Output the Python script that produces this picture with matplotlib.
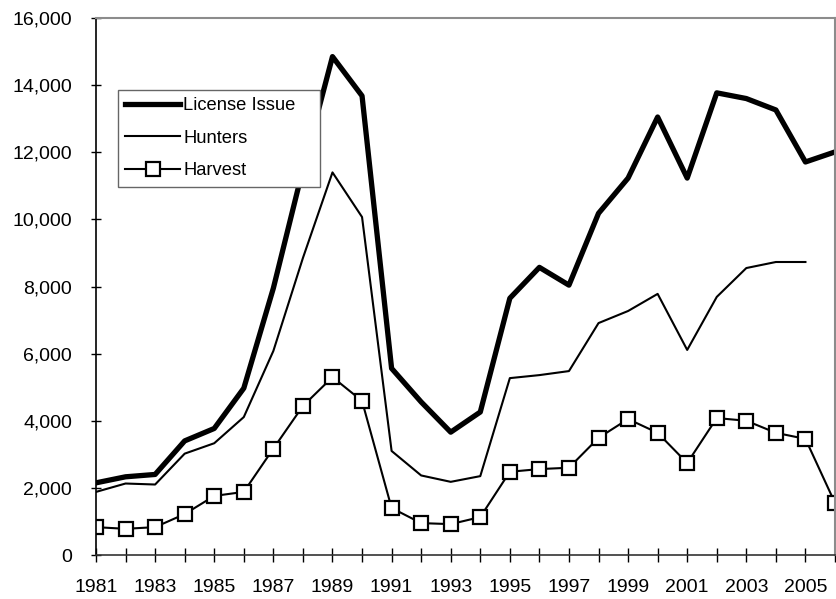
import matplotlib.pyplot as plt
from matplotlib.ticker import FuncFormatter

plt.rcParams['font.family'] = ['Liberation Sans', 'DejaVu Sans']

years = list(range(1981, 2007))
license_issue = [2150, 2330, 2400, 3400, 3770, 4970, 7950, 11500, 14850, 13680,
                 5560, 4560, 3660, 4260, 7650, 8570, 8040, 10180, 11230, 13050,
                 11230, 13770, 13600, 13260, 11710, 12010]
hunters = [1880, 2130, 2100, 3020, 3330, 4110, 6080, 8850, 11400, 10070,
           3100, 2370, 2180, 2350, 5270, 5360, 5480, 6910, 7270, 7780,
           6110, 7690, 8550, 8730, 8730]
harvest = [830, 780, 830, 1220, 1760, 1880, 3170, 4440, 5300, 4590,
           1400, 950, 920, 1130, 2480, 2560, 2600, 3490, 4050, 3640,
           2740, 4080, 4000, 3640, 3460, 1550]

fig = plt.figure(figsize=(8.36, 5.99), dpi=100)
ax = fig.add_axes([96/836, 1 - 555/599, 739/836, 537/599])

ax.plot(years, license_issue, color='black', linewidth=3.8, label='License Issue')
ax.plot(years[:len(hunters)], hunters, color='black', linewidth=1.5, label='Hunters')
ax.plot(years, harvest, color='black', linewidth=1.5, marker='s', markersize=9.5,
        markerfacecolor='white', markeredgecolor='black', markeredgewidth=1.6,
        label='Harvest')

ax.set_xlim(1981, 2006)
ax.set_ylim(0, 16000)
ax.set_xticks(years)
ax.set_xticklabels([str(y) if (y - 1981) % 2 == 0 else '' for y in years])
ax.set_yticks(range(0, 16001, 2000))
ax.yaxis.set_major_formatter(FuncFormatter(lambda v, p: f'{int(v):,}'))

ax.tick_params(axis='x', direction='inout', length=10, width=1, pad=12, labelsize=14)
ax.tick_params(axis='y', direction='inout', length=6.5, width=1, pad=14, labelsize=14)

for side in ['top', 'right']:
    ax.spines[side].set_color('#8c8c8c')
    ax.spines[side].set_linewidth(1.5)
ax.spines['left'].set_color('black')
ax.spines['bottom'].set_color('#333333')
ax.spines['left'].set_linewidth(1.2)
ax.spines['bottom'].set_linewidth(1.2)

leg = ax.legend(loc='upper left', bbox_to_anchor=(0.0298, 0.5, 0.273, 0.366),
                mode='expand', borderaxespad=0,
                fontsize=13.2, handlelength=3.0, handletextpad=0.15,
                fancybox=False, framealpha=1, edgecolor='#666666',
                borderpad=0.4, labelspacing=0.85)
leg.get_frame().set_linewidth(1.0)

fig.savefig('out.png', dpi=100)
